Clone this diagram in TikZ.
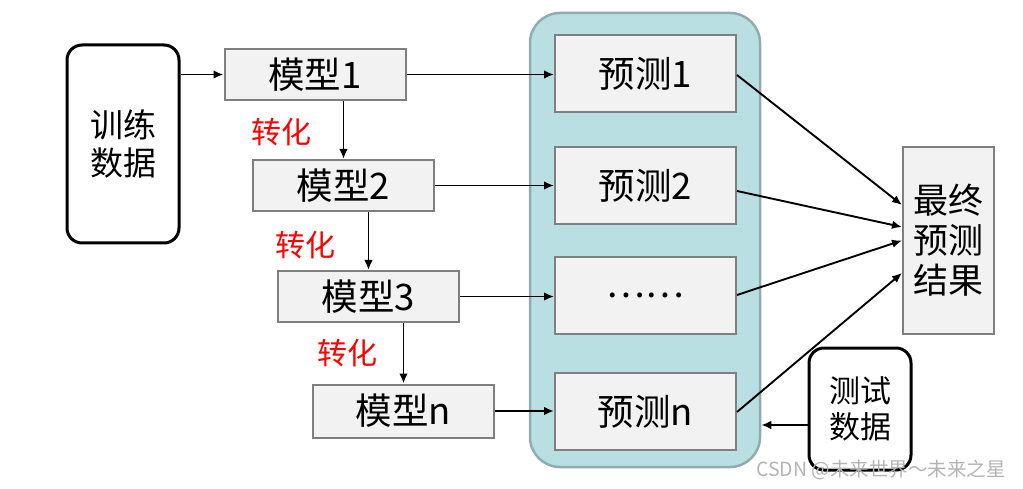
\documentclass[tikz,border=0pt]{standalone}
\usepackage{fontspec}
\setmainfont{Noto Sans CJK SC}
\usetikzlibrary{arrows.meta}
\definecolor{boxfill}{HTML}{F2F2F2}
\definecolor{boxdraw}{HTML}{7F7F7F}
\definecolor{tealfill}{HTML}{B9DFE2}
\definecolor{tealdraw}{HTML}{8FADB0}
\definecolor{wmark}{HTML}{B4B4B4}
\tikzset{
  gbox/.style={draw=boxdraw, fill=boxfill, line width=2pt, inner sep=0pt,
     font=\fontsize{36.5}{40}\selectfont},
  databox/.style={draw=black, line width=3pt, rounded corners=15pt, fill=white,
     inner sep=0pt, align=center},
  conn/.style={line width=1.9pt, -{Latex[length=10pt,width=8.5pt]}},
  redlbl/.style={text=red, font=\fontsize{30}{33}\selectfont, inner sep=0pt},
}
\begin{document}
\begin{tikzpicture}[x=1pt,y=-1pt]
\useasboundingbox (0,0) rectangle (1023,489);
% teal container
\node[draw=tealdraw, fill=tealfill, line width=2.5pt, rounded corners=30pt,
  minimum width=230pt, minimum height=454pt, inner sep=0pt] (teal) at (645,240) {};
% training data
\node[databox, minimum width=112pt, minimum height=198pt,
  font=\fontsize{33}{38}\selectfont] (train) at (123,144) {训练\\数据};
% models
\node[gbox, minimum width=181pt, minimum height=51pt] (m1) at (315,74.5) {模型1};
\node[gbox, minimum width=181pt, minimum height=51pt] (m2) at (343.5,185.5) {模型2};
\node[gbox, minimum width=181pt, minimum height=51pt] (m3) at (368.5,296.5) {模型3};
\node[gbox, minimum width=181pt, minimum height=53pt] (mn) at (403.5,411) {模型n};
% predictions
\node[gbox, minimum width=181pt, minimum height=77pt] (p1) at (645.5,73.5) {预测1};
\node[gbox, minimum width=181pt, minimum height=77pt] (p2) at (645.5,185.5) {预测2};
\node[gbox, minimum width=181pt, minimum height=77pt] (p3) at (645.5,295.5) {……};
\node[gbox, minimum width=181pt, minimum height=77pt] (pn) at (645.5,411.5) {预测n};
% final result
\node[gbox, minimum width=91pt, minimum height=187pt, align=center,
  font=\fontsize{35}{40}\selectfont] (final) at (948.5,240.5) {最终\\预测\\结果};
% test data
\node[databox, minimum width=102pt, minimum height=122pt,
  font=\fontsize{31}{36}\selectfont] (test) at (860,409) {测试\\数据};
% red labels
\node[redlbl] (t1) at (281,132) {转化};
\node[redlbl] (t2) at (305,245) {转化};
\node[redlbl] (t3) at (347,353) {转化};
% connectors
\draw[conn] (train.east |- m1.west) -- (m1.west);
\draw[conn] (m1.east) -- (m1.east -| p1.west);
\draw[conn] (m2.east) -- (m2.east -| p2.west);
\draw[conn] (m3.east) -- (m3.east -| p3.west);
\draw[conn] (mn.east) -- (mn.east -| pn.west);
\draw[conn] (m1.south -| m2.north) -- (m2.north);
\draw[conn] (m2.south -| m3.north) -- (m3.north);
\draw[conn] (m3.south -| mn.north) -- (mn.north);
\draw[conn] ([yshift=-1.5pt]p1.east) -- ([yshift=35.5pt]final.west);
\draw[conn] ([yshift=-5.5pt]p2.east) -- ([yshift=13.5pt]final.west);
\draw[conn] ([yshift=0.5pt]p3.east) -- (final.west);
\draw[conn] ([yshift=-0.5pt]pn.east) -- ([yshift=-32.5pt]final.west);
\draw[conn] ([yshift=-16pt]test.west) -- ([yshift=-16pt]test.west -| teal.east);
% watermark
\node[text=wmark, font=\fontsize{19.5}{22}\selectfont, inner sep=0pt] (wm) at (881,470) {CSDN @未来世界～未来之星};
\end{tikzpicture}
\end{document}
